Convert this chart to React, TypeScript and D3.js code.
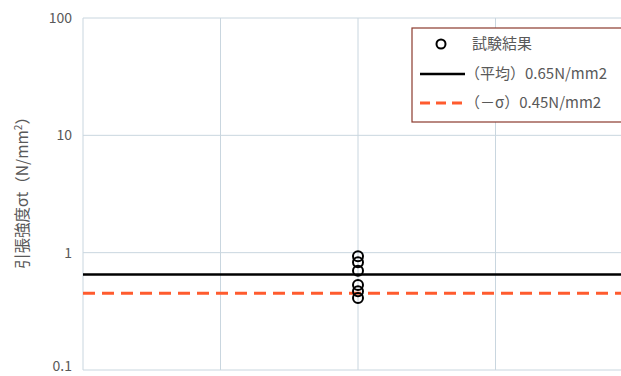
import React from 'react';
import * as d3 from 'd3';

// test results (N/mm2), all at the same x position
const testValues = [0.93, 0.83, 0.7, 0.53, 0.47, 0.41];
const testX = 2;
const meanValue = 0.65;
const sigmaValue = 0.45;
const yTicks = [0.1, 1, 10, 100];
const xTicks = [0, 1, 2, 3, 4];
const legendLabels = ['試験結果', '（平均）0.65N/mm2', '（－σ）0.45N/mm2'];

const App = () => {
  const W = 621;
  const H = 376;
  const margin = { top: 18, left: 83 };
  const plotW = 550;
  const plotH = 352;

  const x = d3.scaleLinear().domain([0, 4]).range([margin.left, margin.left + plotW]);
  const y = d3.scaleLog().domain([0.1, 100]).range([margin.top + plotH, margin.top]);

  const gridColor = '#c9d6df';
  const textColor = '#595959';
  const red = '#ff5b2e';
  const font = '"Noto Sans CJK JP", "Noto Sans", sans-serif';

  const legend = { x: 412, y: 28, w: 215, h: 94 };

  return (
    <svg
      width={W}
      height={H}
      style={{ position: 'absolute', left: 0, top: 0, background: '#fff' }}
      fontFamily={font}
    >
      {/* grid */}
      {yTicks.map((t) => (
        <line key={'h' + t} x1={x(0)} x2={x(4)} y1={y(t)} y2={y(t)} stroke={gridColor} strokeWidth={1} />
      ))}
      {xTicks.map((t) => (
        <line key={'v' + t} x1={x(t)} x2={x(t)} y1={y(100)} y2={y(0.1)} stroke={gridColor} strokeWidth={1} />
      ))}

      {/* y tick labels */}
      {yTicks.map((t) => (
        <text key={'t' + t} x={72} y={Math.min(y(t), 366)} dy="0.35em" textAnchor="end" fontSize={14} fill={textColor}>
          {t}
        </text>
      ))}

      {/* y axis title */}
      <text
        transform={`translate(28,${189}) rotate(-90)`}
        textAnchor="middle"
        fontSize={15.5}
        fill={textColor}
      >
        引張強度σt（N/mm<tspan dy="-6" fontSize={10}>2</tspan><tspan dy="6">）</tspan>
      </text>

      {/* mean and -sigma lines */}
      <line x1={x(0)} x2={x(4)} y1={y(meanValue)} y2={y(meanValue)} stroke="#000" strokeWidth={2.5} />
      <line
        x1={x(0)}
        x2={x(4)}
        y1={y(sigmaValue)}
        y2={y(sigmaValue)}
        stroke={red}
        strokeWidth={3}
        strokeDasharray="12,7"
      />

      {/* test points */}
      {testValues.map((v, i) => (
        <circle key={i} cx={x(testX)} cy={y(v)} r={5} fill="none" stroke="#000" strokeWidth={2} />
      ))}

      {/* legend */}
      <rect x={legend.x} y={legend.y} width={legend.w} height={legend.h} fill="#fff" stroke="#8b3a2e" strokeWidth={1.2} />
      <circle cx={441} cy={44} r={4.5} fill="none" stroke="#000" strokeWidth={2} />
      <text x={472} y={44} dy="0.35em" fontSize={15} fill={textColor}>{legendLabels[0]}</text>
      <line x1={420} x2={465} y1={74} y2={74} stroke="#000" strokeWidth={2.5} />
      <text x={465} y={74} dy="0.35em" fontSize={15} fill={textColor}>{legendLabels[1]}</text>
      <line x1={420} x2={465} y1={103} y2={103} stroke={red} strokeWidth={3} strokeDasharray="10,6" />
      <text x={465} y={103} dy="0.35em" fontSize={15} fill={textColor}>{legendLabels[2]}</text>
    </svg>
  );
};

export default App;
